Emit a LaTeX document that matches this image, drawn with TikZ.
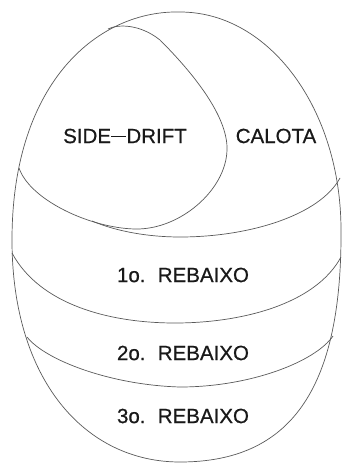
\documentclass[tikz,border=0pt]{standalone}
\usepackage{fontspec}
\setmainfont{Liberation Sans}
\newfontfamily\lblfont[FakeBold=0.6]{Liberation Sans}
\begin{document}
\begin{tikzpicture}[x=1pt,y=-1pt,
  contour/.style={draw=black!65, line width=0.7pt},
  lbl/.style={font=\lblfont\fontsize{20.5}{22}\selectfont, text=black!90, inner sep=0pt}]
\useasboundingbox (0,0) rectangle (342,463);
% outer egg
\draw[contour] (180,12) .. controls (100,10) and (12,80) .. (12,240)
  .. controls (12,380) and (85,462) .. (180,462)
  .. controls (290,462) and (342,390) .. (341,230)
  .. controls (341,110) and (270,12) .. (180,12);
% side-drift
\draw[contour] (108,29) .. controls (118,24) and (140,24) .. (160,40)
  .. controls (200,80) and (228,120) .. (227,150)
  .. controls (226,190) and (180,230) .. (135,229)
  .. controls (90,228) and (30,200) .. (19,168);
% calota bottom
\draw[contour] (92,221) .. controls (118,232) and (150,237) .. (180,237)
  .. controls (250,237) and (320,215) .. (340,178);
% 1o rebaixo bottom
\draw[contour] (12,253) .. controls (40,305) and (110,323) .. (175,323)
  .. controls (240,323) and (315,305) .. (341,257);
% 2o rebaixo bottom
\draw[contour] (27,337) .. controls (45,360) and (110,385) .. (180,387)
  .. controls (250,387) and (315,362) .. (333,336);
% labels
\node[lbl] (sd) at (125,136) {SIDE\rule[0.28em]{0.75em}{0.07em}DRIFT};
\node[lbl] (cal) at (276,136) {CALOTA};
\node[lbl] (r1) at (183,275) {1o.\hspace{0.6em}REBAIXO};
\node[lbl] (r2) at (183,353) {2o.\hspace{0.6em}REBAIXO};
\node[lbl] (r3) at (183,416) {3o.\hspace{0.6em}REBAIXO};
\end{tikzpicture}
\end{document}
